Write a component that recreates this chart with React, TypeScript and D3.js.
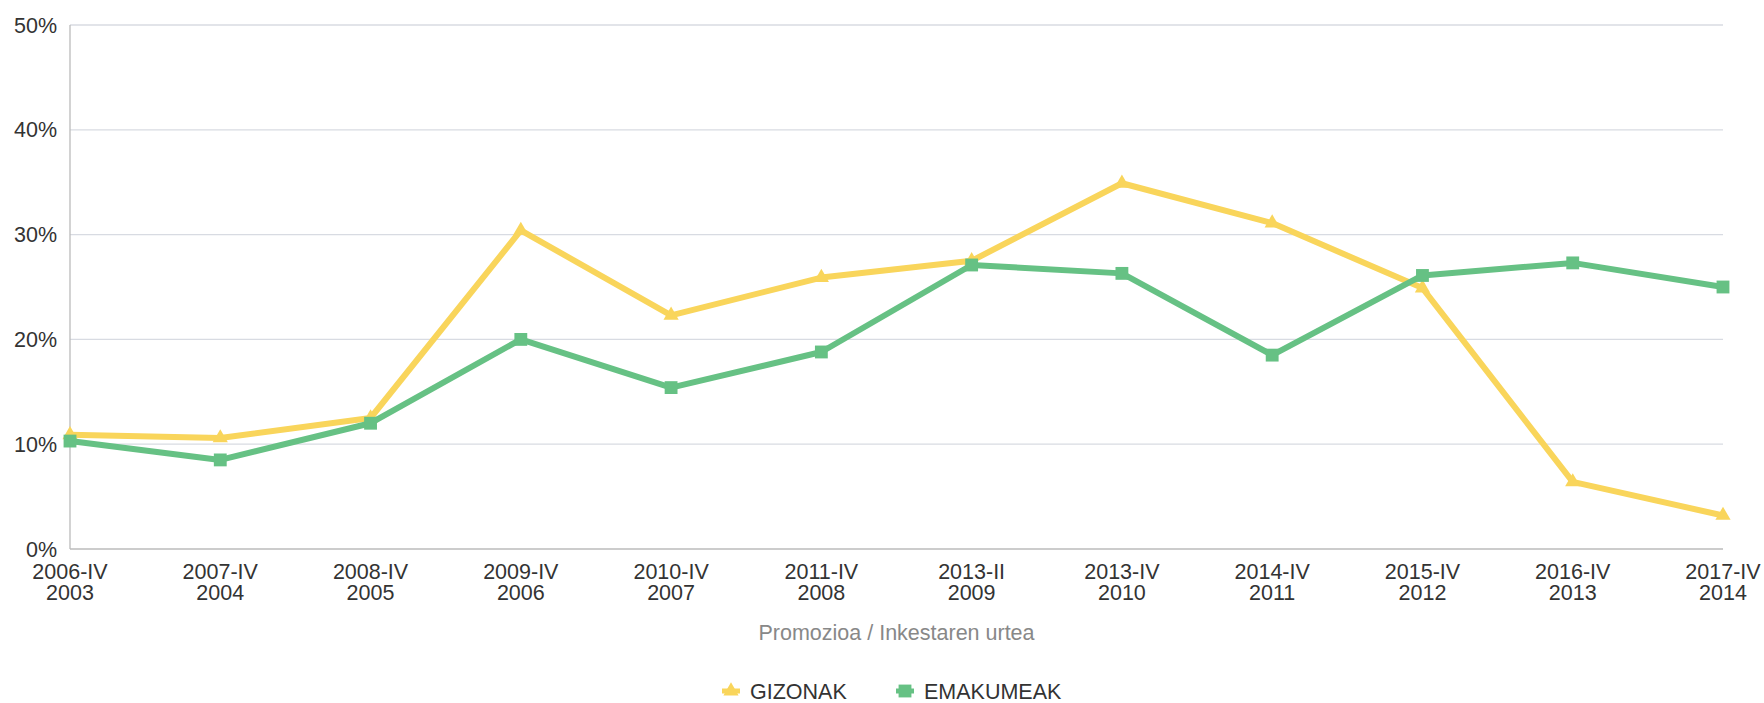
import React from "react";
import * as d3 from "d3";

const promoLabels = ["2006-IV", "2007-IV", "2008-IV", "2009-IV", "2010-IV", "2011-IV", "2013-II", "2013-IV", "2014-IV", "2015-IV", "2016-IV", "2017-IV"];
const yearLabels = ["2003", "2004", "2005", "2006", "2007", "2008", "2009", "2010", "2011", "2012", "2013", "2014"];
const gizonak = [10.9, 10.6, 12.5, 30.4, 22.3, 25.9, 27.5, 34.9, 31.1, 24.9, 6.4, 3.2];
const emakumeak = [10.3, 8.5, 12.0, 20.0, 15.4, 18.8, 27.1, 26.3, 18.5, 26.1, 27.3, 25.0];
const yTicks = [0, 10, 20, 30, 40, 50];

const W = 1764, H = 703;
const left = 70, right = 1723, top = 25, bottom = 549;
const YELLOW = "#f9d55b";
const GREEN = "#66c184";
const FONT = "'Liberation Sans', Arial, sans-serif";
const FS = 21.5;

export default function App() {
  const x = d3.scalePoint<number>().domain(d3.range(promoLabels.length)).range([left, right]);
  const y = d3.scaleLinear().domain([0, 50]).range([bottom, top]);
  const line = d3.line<number>().x((_, i) => x(i)!).y((d) => y(d));
  const tri = d3.symbol().type(d3.symbolTriangle).size(100)()!;
  const sq = d3.symbol().type(d3.symbolSquare).size(165)()!;

  return (
    <svg width={W} height={H} style={{ position: "absolute", left: 0, top: 0, fontFamily: FONT }}>
      <rect width={W} height={H} fill="#fff" />
      {yTicks.map((t) => (
        <g key={t}>
          {t > 0 && <line x1={left} x2={right} y1={y(t)} y2={y(t)} stroke="#d8dbe2" strokeWidth={1.3} />}
          <text x={57} y={y(t)} dy="0.35em" textAnchor="end" fontSize={FS} fill="#333">{t}%</text>
        </g>
      ))}
      <line x1={left} x2={left} y1={top} y2={bottom} stroke="#bbb" strokeWidth={1.3} />
      <line x1={left} x2={right} y1={bottom} y2={bottom} stroke="#bbb" strokeWidth={1.3} />
      {promoLabels.map((p, i) => (
        <g key={p + i}>
          <text x={x(i)} y={579} textAnchor="middle" fontSize={FS} fill="#333">{p}</text>
          <text x={x(i)} y={600} textAnchor="middle" fontSize={FS} fill="#333">{yearLabels[i]}</text>
        </g>
      ))}
      <text x={(left + right) / 2} y={640} textAnchor="middle" fontSize={FS} fill="#888">Promozioa / Inkestaren urtea</text>

      <path d={line(gizonak)!} fill="none" stroke={YELLOW} strokeWidth={6} strokeLinejoin="round" />
      {gizonak.map((v, i) => (
        <path key={"g" + i} d={tri} transform={`translate(${x(i)},${y(v)})`} fill={YELLOW} />
      ))}
      <path d={line(emakumeak)!} fill="none" stroke={GREEN} strokeWidth={6} strokeLinejoin="round" />
      {emakumeak.map((v, i) => (
        <path key={"e" + i} d={sq} transform={`translate(${x(i)},${y(v)})`} fill={GREEN} />
      ))}

      <g transform="translate(731,691)">
        <line x1={-9} x2={9} y1={0} y2={0} stroke={YELLOW} strokeWidth={5} />
        <path d={tri} fill={YELLOW} />
        <text x={19} dy="0.35em" fontSize={FS} fill="#333">GIZONAK</text>
      </g>
      <g transform="translate(905,691)">
        <line x1={-9} x2={9} y1={0} y2={0} stroke={GREEN} strokeWidth={5} />
        <path d={sq} fill={GREEN} />
        <text x={19} dy="0.35em" fontSize={FS} fill="#333">EMAKUMEAK</text>
      </g>
    </svg>
  );
}
